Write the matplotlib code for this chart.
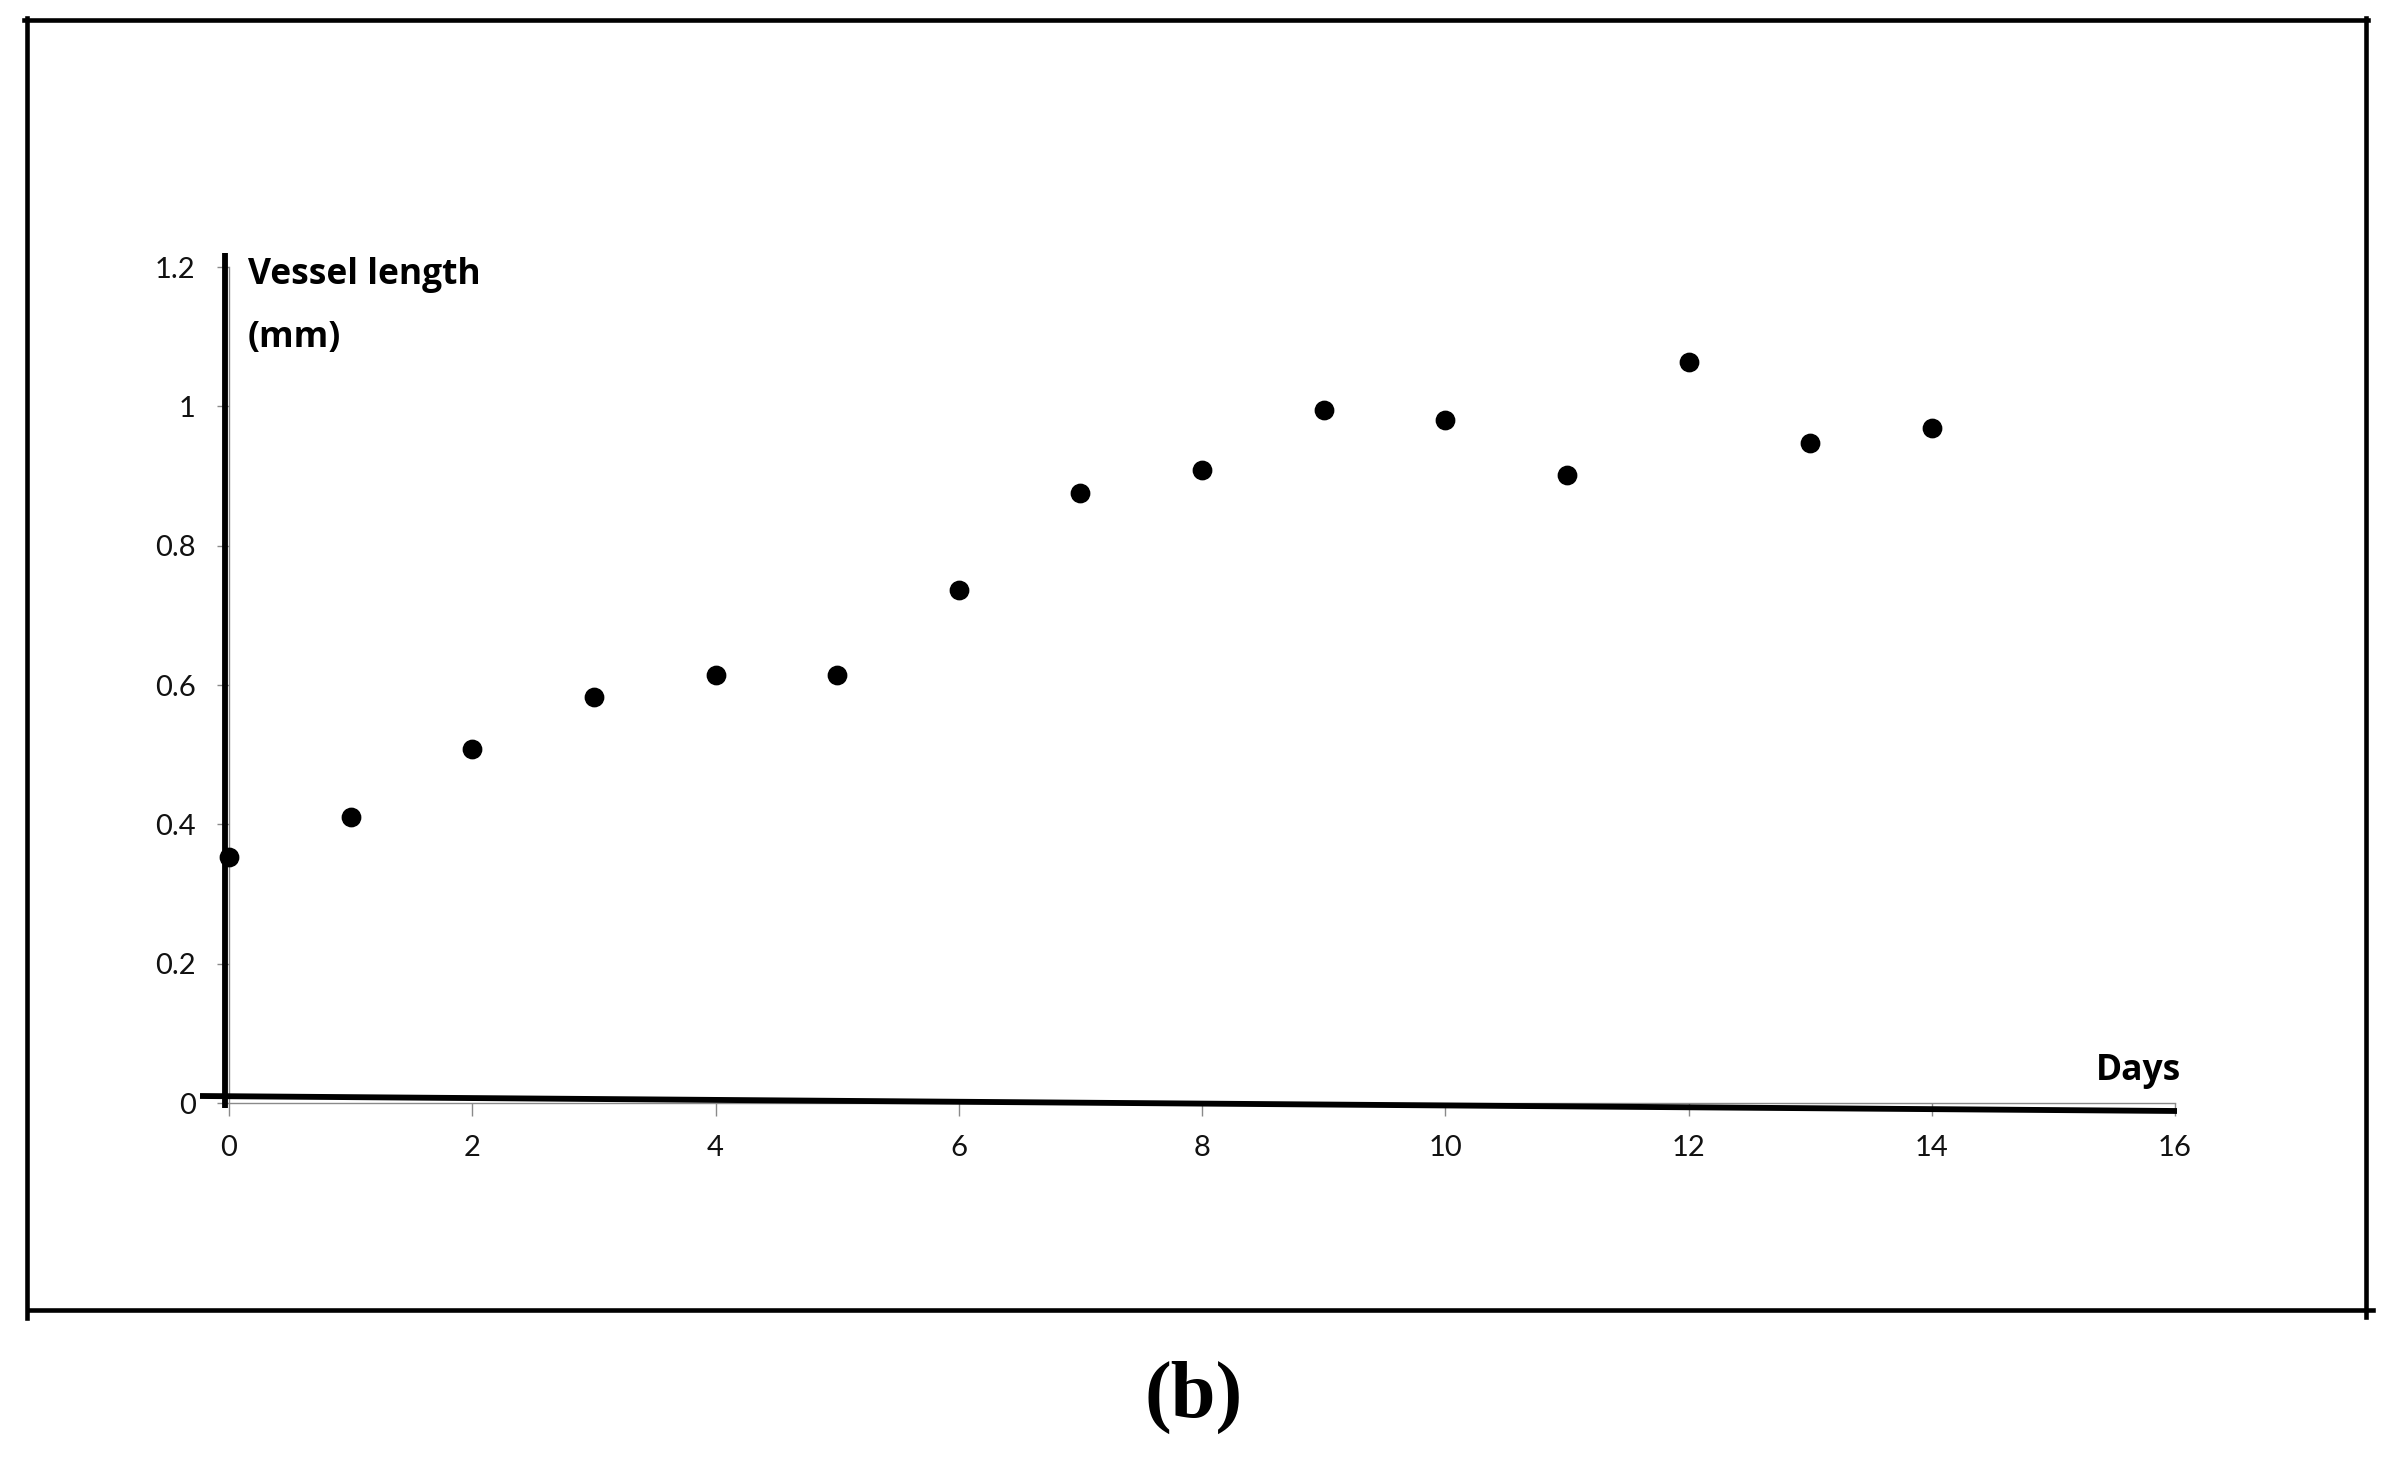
import matplotlib
matplotlib.use("Agg")
import matplotlib.pyplot as plt
from matplotlib.lines import Line2D

# vessel length per day
days = [0, 1, 2, 3, 4, 5, 6, 7, 8, 9, 10, 11, 12, 13, 14]
vessel_length = [0.353, 0.410, 0.508, 0.583, 0.615, 0.615, 0.737, 0.875,
                 0.908, 0.995, 0.980, 0.901, 1.063, 0.947, 0.969]
x_ticks = [0, 2, 4, 6, 8, 10, 12, 14, 16]
y_ticks = [0, 0.2, 0.4, 0.6, 0.8, 1.0, 1.2]
y_tick_labels = ["0", "0.2", "0.4", "0.6", "0.8", "1", "1.2"]

W, H = 2387, 1467
fig = plt.figure(figsize=(W / 100, H / 100), dpi=100)
fig.patch.set_facecolor("white")

# axes box in pixels (left, right, top, bottom of data area)
x0, x1, ytop, ybot = 229, 2175, 267, 1103
ax = fig.add_axes([x0 / W, 1 - ybot / H, (x1 - x0) / W, (ybot - ytop) / H])
ax.set_xlim(0, 16)
ax.set_ylim(0, 1.2)

ax.scatter(days, vessel_length, s=175, color="black", zorder=5, clip_on=False)

grey = "#8a8a8a"
for side in ["top", "right"]:
    ax.spines[side].set_visible(False)
for side in ["left", "bottom"]:
    ax.spines[side].set_color(grey)
    ax.spines[side].set_linewidth(1)

ax.set_xticks(x_ticks)
ax.set_xticklabels([str(t) for t in x_ticks])
ax.set_yticks(y_ticks)
ax.set_yticklabels(y_tick_labels)
ax.tick_params(axis="both", direction="out", length=9, width=1, color=grey,
               labelsize=21, labelcolor="#111111")
ax.tick_params(axis="x", pad=14)
ax.tick_params(axis="y", pad=15)
for lab in ax.get_xticklabels() + ax.get_yticklabels():
    lab.set_fontfamily("Lato")

# hand drawn thick axis lines
px_x = 16 / (x1 - x0)
px_y = 1.2 / (ybot - ytop)
ax.plot([-4 * px_x, -4 * px_x], [(ybot - 253) * px_y, (ybot - 1108) * px_y],
        color="black", lw=4.2, clip_on=False, solid_capstyle="butt", zorder=4)
ax.plot([(200 - x0) * px_x, (2177 - x0) * px_x],
        [(ybot - 1096) * px_y, (ybot - 1111) * px_y],
        color="black", lw=4.2, clip_on=False, solid_capstyle="butt", zorder=4)

label_font = dict(fontsize=25.5, fontweight="bold", fontfamily="Open Sans")
ax.text(19 * px_x, (ybot - 284) * px_y, "Vessel length",
        va="baseline", ha="left", **label_font)
ax.text(19 * px_x, (ybot - 347) * px_y, "(mm)",
        va="baseline", ha="left", **label_font)
ax.text((2181 - x0) * px_x, (ybot - 1080) * px_y, "Days",
        va="baseline", ha="right", **label_font)

# outer frame
lw = 3.3
fig.add_artist(Line2D([24 / W, 2368 / W], [1 - 19.5 / H, 1 - 19.5 / H],
                      color="black", lw=lw))
fig.add_artist(Line2D([26.5 / W, 26.5 / W], [1 - 18 / H, 1 - 1318 / H],
                      color="black", lw=lw))
fig.add_artist(Line2D([2365.5 / W, 2365.5 / W], [1 - 18 / H, 1 - 1317 / H],
                      color="black", lw=lw))
fig.add_artist(Line2D([29 / W, 2373 / W], [1 - 1310 / H, 1 - 1310 / H],
                      color="black", lw=lw))

fig.text(1194 / W, 1 - 1397 / H, "(b)", fontsize=58, fontweight="bold",
         fontfamily="Liberation Serif", ha="center", va="center")

fig.savefig("out.png", dpi=100)
